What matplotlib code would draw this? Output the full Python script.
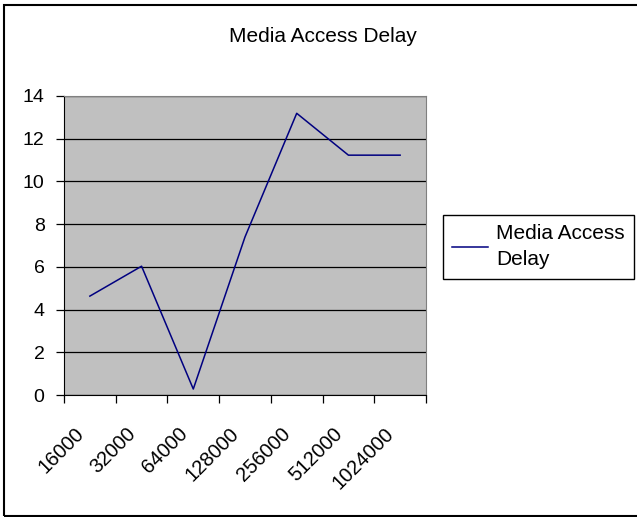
import matplotlib
matplotlib.use("Agg")
import matplotlib.pyplot as plt
from matplotlib.patches import Rectangle
from matplotlib.transforms import ScaledTranslation

plt.rcParams["font.family"] = ["Liberation Sans", "DejaVu Sans"]

# packet sizes and measured delay
categories = ["16000", "32000", "64000", "128000", "256000", "512000", "1024000"]
delay = [4.63, 6.03, 0.28, 7.4, 13.19, 11.23, 11.23]
series_name = "Media Access\nDelay"
title = "Media Access Delay"

fig = plt.figure(figsize=(6.37, 5.17), dpi=100)
ax = fig.add_axes([64 / 637, 1 - 395 / 517, (426 - 64) / 637, (395 - 96) / 517])

# outer frame of the chart area
fig.patches.append(Rectangle((4 / 637, 1 / 517), 1.0, 1 - 6 / 517, transform=fig.transFigure,
                             fill=False, edgecolor="black", linewidth=1.5))

x = [i + 0.5 for i in range(len(categories))]
ax.plot(x, delay, color="#000080", linewidth=1.1, label=series_name)

ax.set_facecolor("#C0C0C0")
ax.set_xlim(0, len(categories))
ax.set_ylim(0, 14)
ax.set_yticks(range(0, 15, 2))
ax.yaxis.grid(True, color="black", linewidth=0.9)
ax.set_axisbelow(True)

ax.set_xticks(range(len(categories) + 1))
ax.set_xticklabels([])
ax.set_xticks(x, minor=True)
ax.set_xticklabels(categories, minor=True, rotation=45, ha="right", va="center",
                   rotation_mode="anchor", fontsize=14.5)
ax.tick_params(axis="x", which="minor", length=0, pad=20)
ax.tick_params(axis="x", which="major", length=6, width=0.9)
ax.tick_params(axis="y", length=6, width=0.9, labelsize=14, pad=8)

# nudge the slanted category labels left and down
shift = ScaledTranslation(-9 / 100, -8 / 100, fig.dpi_scale_trans)
for lab in ax.get_xticklabels(minor=True):
    lab.set_transform(lab.get_transform() + shift)

for side in ["left", "bottom"]:
    ax.spines[side].set_color("black")
for side in ["right", "top"]:
    ax.spines[side].set_color("#808080")

fig.text(323 / 637, 1 - 37 / 517, title, ha="center", va="center", fontsize=15)

leg = ax.legend(loc="upper left", bbox_to_anchor=(443 / 637, 1 - 215 / 517),
                bbox_transform=fig.transFigure, fontsize=15, frameon=True,
                fancybox=False, framealpha=1, edgecolor="black",
                handlelength=1.7, handletextpad=0.4, borderpad=0.45,
                borderaxespad=0)
leg.get_frame().set_linewidth(1.0)
for t in leg.get_texts():
    t.set_linespacing(1.45)

fig.savefig("out.png", dpi=100)
